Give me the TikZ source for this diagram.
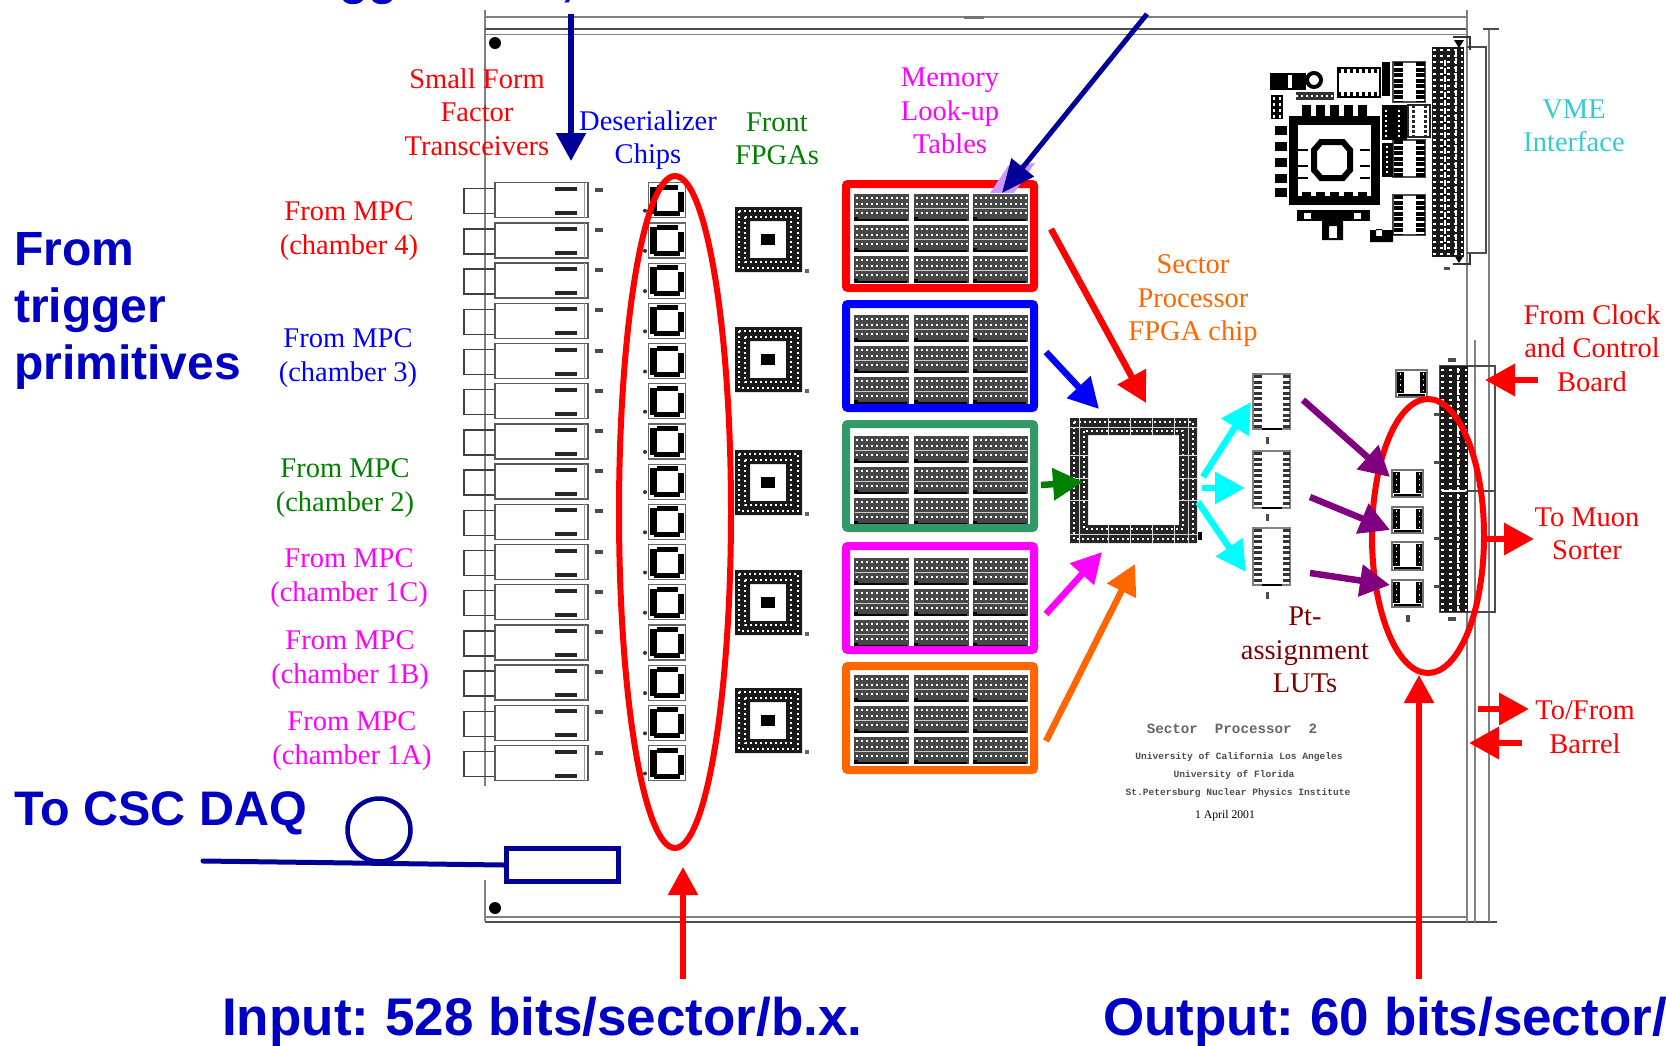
\documentclass[tikz,border=0pt]{standalone}
\usepackage{fontspec}
\setmainfont{Liberation Serif}
\setsansfont{Liberation Sans}
\setmonofont{Liberation Mono}
\usetikzlibrary{arrows.meta}
\definecolor{navyblue}{RGB}{0,0,153}
\definecolor{boldblue}{RGB}{0,0,196}
\definecolor{seagreen}{RGB}{51,153,102}
\definecolor{deeporange}{RGB}{255,102,0}
\definecolor{turq}{RGB}{51,204,204}
\definecolor{lilac}{RGB}{204,153,255}
\definecolor{fullmagenta}{RGB}{255,0,255}
\definecolor{fullcyan}{RGB}{0,255,255}
\definecolor{fullred}{RGB}{255,0,0}
\definecolor{fullblue}{RGB}{0,0,255}
\definecolor{fullpurple}{RGB}{128,0,128}
\definecolor{darkgreen}{RGB}{0,128,0}
\definecolor{darkred}{RGB}{128,0,0}
\begin{document}
\begin{tikzpicture}[x=1pt,y=-1pt,
  lbl/.style={font=\fontsize{28.5}{33.5}\selectfont,align=center,inner sep=0pt},
  biglbl/.style={font=\fontsize{48}{57}\selectfont\sffamily\bfseries,text=boldblue,inner sep=0pt},
  hugelbl/.style={font=\fontsize{53}{60}\selectfont\sffamily\bfseries,text=boldblue,inner sep=0pt,anchor=base west},
  platelbl/.style={font=\fontsize{9.6}{11}\selectfont\ttfamily\bfseries,text=black!70,inner sep=0pt},
  bigarrow/.style={-{Triangle[length=30pt,width=31pt]},line width=6.5pt},
  longarrow/.style={-{Triangle[length=28pt,width=29pt]},line width=5.5pt},
  boardln/.style={black!50,line width=1.6pt},
  bankbox/.style={minimum width=188pt,minimum height=104pt,line width=8pt,rounded corners=2pt,inner sep=0pt},
  holes/.style={white,line width=1.4pt,dash pattern=on 2pt off 3pt}]
\useasboundingbox (0,0) rectangle (1666,1045);

% Board outline
\draw[boardln] (485,10) -- (485,786);
\draw[boardln] (485,880) -- (485,921);
\draw[boardln] (485,17) -- (1467,17);
\draw[black!70,line width=1.8pt] (485,29) -- (1467,29);
\draw[boardln] (485,34.5) -- (1467,34.5);
\draw[boardln] (485,917) -- (1467,917);
\draw[black!70,line width=1.8pt] (485,922) -- (1497,922);
\fill[black!55] (964,15.5) rectangle (984,19);
\draw[boardln] (1467,10) -- (1467,922);
\draw[boardln] (1475,340) -- (1475,922);
\draw[boardln] (1489,29) -- (1489,922);
\draw[black!70,line width=1.6pt] (1483,29) -- (1499,29);
\fill[black] (495,43) circle (6pt);
\fill[black] (495,908) circle (6pt);

% Transceivers and deserializers, one per row
\foreach \n in {0,...,14} {
  \pgfmathsetmacro\y{182.7+40.2*\n}
  \draw[black!75,line width=1.4pt] (495,\y+6) -- (464,\y+6) -- (464,\y+31) -- (495,\y+31);
  \draw[black!65,line width=1.5pt] (495,\y) rectangle (588,\y+35);
  \draw[black!40,line width=1pt] (584.5,\y) -- (584.5,\y+35);
  \fill[black!85] (555,\y+4) rectangle (577,\y+8);
  \fill[black!85] (555,\y+28) rectangle (577,\y+32);
  \fill[black!70] (595,\y+5) rectangle (603,\y+9);
  % deserializer chip
  \draw[black!60,line width=1.2pt] (648.5,\y) rectangle (685.5,\y+35);
  \fill[black] (650,\y+4) rectangle (657,\y+31);
  \fill[black] (657,\y+2) rectangle (678,\y+7);
  \fill[black] (654,\y+28) rectangle (680,\y+33);
  \fill[black] (678,\y+9) rectangle (684,\y+29);
  \fill[black!80] (645,\y+28) circle (2pt);
}

% Front FPGAs
\foreach \y in {207,327,450,570,688} {
  \fill[black!90,even odd rule] (735,\y) rectangle (802,\y+65) (750,\y+14) rectangle (786,\y+51);
  \draw[holes] (739,\y+4) rectangle (798,\y+61);
  \draw[holes] (745,\y+10) rectangle (791,\y+55);
  \fill[black] (761,\y+27) rectangle (775,\y+38);
  \fill[black!60] (805,\y+62) rectangle (809,\y+66);
}

% Memory banks
\foreach \col/\top/\chiptop in {fullred/180/194,fullblue/300/315,seagreen/420/436,fullmagenta/542/558,deeporange/662/675} {
  \foreach \cx in {854,913.5,973} {
    \foreach \r in {0,1,2} {
      \pgfmathsetmacro\cy{\chiptop+31*\r}
      \fill[black!72] (\cx,\cy) rectangle (\cx+55,\cy+27);
      \draw[holes,line width=1.2pt] (\cx+2,\cy+4) -- (\cx+54,\cy+4);
      \draw[holes,line width=1.2pt] (\cx+2,\cy+10) -- (\cx+54,\cy+10);
      \draw[white!80!black,line width=.9pt] (\cx+1,\cy+14.5) -- (\cx+54,\cy+14.5);
      \draw[holes,line width=1.2pt] (\cx+2,\cy+19) -- (\cx+54,\cy+19);
      \draw[black,line width=1.5pt] (\cx+2,\cy+26) -- (\cx+53,\cy+26);
      \fill[black] (\cx,\cy+23) rectangle (\cx+4,\cy+27);
    }
  }
  \node[bankbox,draw=\col] (bank\col) at (940,\top+56) {};
}

% Sector processor FPGA
\fill[black!85,even odd rule] (1070,418) rectangle (1197,543) (1088,435) rectangle (1179,525);
\draw[holes,line width=1.2pt] (1074,422) rectangle (1193,539);
\draw[holes,line width=1.2pt] (1084,431) rectangle (1183,529);
\draw[white!85!black,line width=.9pt] (1070,427) -- (1197,427) (1070,534) -- (1197,534);
\draw[white!85!black,line width=.9pt] (1079,418) -- (1079,543) (1188,418) -- (1188,543);
\foreach \x in {1108,1130,1152,1174} \draw[white!85!black,line width=.9pt] (\x,418) -- (\x,435) (\x,525) -- (\x,543);
\foreach \y in {455,478,500} \draw[white!85!black,line width=.9pt] (1070,\y) -- (1088,\y) (1179,\y) -- (1197,\y);
\fill[black] (1198,532) rectangle (1202,540);

% Pt-assignment LUTs
\foreach \y/\h/\tick in {374/55/437,451/57/514,528/57/592} {
  \draw[black!50,line width=1.2pt] (1253,\y) rectangle (1290,\y+\h);
  \draw[black!80,line width=8pt,dash pattern=on 3pt off 2.5pt] (1257.5,\y+1) -- (1257.5,\y+\h-1);
  \draw[black!80,line width=7pt,dash pattern=on 3pt off 2.5pt] (1286,\y+1) -- (1286,\y+\h-1);
  \draw[black,line width=1.4pt] (1262,\y+\h) -- (1282,\y+\h);
  \fill[black!70] (1266,\tick) rectangle (1268.5,\tick+7);
}

% Output chips
\foreach \x/\y/\h in {1396/370/27,1392/470/27,1392/507/26,1392/542/28,1392/580/27} {
  \draw[black!55,line width=1.2pt] (\x,\y) rectangle (\x+31,\y+\h);
  \fill[black] (\x+1,\y+2) rectangle (\x+8,\y+\h-4);
  \fill[black] (\x+24,\y+2) rectangle (\x+30,\y+\h-4);
  \draw[white,line width=1pt,dash pattern=on 1.5pt off 4pt] (\x+4,\y+3) -- (\x+4,\y+\h-4) (\x+27,\y+3) -- (\x+27,\y+\h-4);
  \fill[black] (\x+2,\y+\h-3) rectangle (\x+29,\y+\h-1);
}
\fill[black!70] (1406,615) rectangle (1410,622);

% Lower connector
\draw[black!70,line width=1.5pt] (1440,366) rectangle (1495,612);
\draw[black!70,line width=1.5pt] (1440,491) -- (1495,491);
\fill[black!90] (1440,366) rectangle (1468,612);
\foreach \y in {370,376,...,610} \draw[white,line width=1.2pt,dash pattern=on 3pt off 5pt] (1441,\y) -- (1467,\y);
\draw[white,line width=1.2pt,dash pattern=on 5pt off 2pt] (1458,368) -- (1458,610);
\draw[white,line width=1.2pt] (1442,491) -- (1466,491);
\fill[black!70] (1434,413) rectangle (1439,416);
\fill[black!70] (1434,461) rectangle (1439,464);
\fill[black!70] (1434,537) rectangle (1439,540);
\fill[black!70] (1434,585) rectangle (1439,588);
\fill[black!70] (1448,358) rectangle (1456,362);
\fill[black!70] (1448,617) rectangle (1456,621);

% VME connector
\draw[black!70,line width=1.6pt] (1467,47) -- (1486,47) -- (1486,253) -- (1467,253);
\draw[black!80,line width=1.6pt] (1453,37) -- (1470,37) -- (1470,50);
\draw[black!80,line width=1.6pt] (1453,264) -- (1470,264) -- (1470,254);
\fill[black] (1454,40) -- (1464,40) -- (1459,48) -- cycle;
\fill[black] (1454,255) -- (1464,255) -- (1459,263) -- cycle;
\fill[black!90] (1432,47) rectangle (1464,257);
\foreach \y in {50,56,...,254} \draw[white,line width=1.2pt,dash pattern=on 3pt off 4pt] (1433,\y) -- (1463,\y);
\draw[white,line width=1.3pt,dash pattern=on 6pt off 2pt] (1456,50) -- (1456,255);
\draw[white,line width=1.3pt,dash pattern=on 6pt off 2pt] (1445,60) -- (1445,250);
\fill[black!70] (1444,267) rectangle (1450,270);

% VME interface chips
\draw[black,line width=9pt] (1293,120) rectangle (1375,200);
\draw[black,line width=6pt] (1321,142) -- (1343,142) -- (1350,150) -- (1350,170) -- (1343,178) -- (1321,178) -- (1314,170) -- (1314,150) -- cycle;
\foreach \x in {1302,1316,1330,1344,1358} {
  \fill[black] (\x,105) rectangle (\x+9,116);
  \fill[black] (\x,192) rectangle (\x+9,198);
}
\foreach \y in {126,142,158,174,188} \fill[black] (1275,\y) rectangle (1287,\y+9);
\foreach \y in {150,166,178} {
  \draw[black,line width=1.5pt] (1298,\y) -- (1308,\y);
  \draw[black,line width=1.5pt] (1360,\y) -- (1370,\y);
}
\fill[black] (1270,73) rectangle (1306,90);
\fill[white] (1288,75) rectangle (1292,88);
\draw[black,line width=4pt] (1314,80) circle (7pt);
\fill[black] (1271,95) rectangle (1283,119);
\draw[white,line width=1.5pt,dash pattern=on 3pt off 3pt] (1274,97) -- (1274,118) (1280,97) -- (1280,118);
\fill[black!80] (1296,92) rectangle (1334,100);
\draw[holes] (1296,96) -- (1334,96);
\draw[black,line width=1.5pt] (1338,68) rectangle (1380,97);
\draw[black,line width=4pt,dash pattern=on 3pt off 3pt] (1338,71) -- (1380,71);
\draw[black,line width=4pt,dash pattern=on 3pt off 3pt] (1338,94) -- (1380,94);
\fill[black] (1382,62) rectangle (1390,96);
\foreach \y/\h in {62/40,140/37,195/40} {
  \draw[black!70,line width=1.2pt] (1393,\y) rectangle (1425,\y+\h);
  \draw[black,line width=9pt,dash pattern=on 4pt off 1.5pt] (1398,\y) -- (1398,\y+\h);
  \draw[black,line width=9pt,dash pattern=on 4pt off 1.5pt] (1420,\y) -- (1420,\y+\h);
}
\fill[black] (1382,105) rectangle (1407,140);
\fill[black] (1382,143) rectangle (1393,177);
\draw[holes] (1386,110) -- (1386,138) (1399,110) -- (1399,138);
\draw[holes] (1387,146) -- (1387,176);
\draw[black!85,line width=1.4pt] (1408,105) rectangle (1430,137);
\draw[black!85,line width=3pt,dash pattern=on 3pt off 2pt] (1413,105) -- (1413,137) (1425,105) -- (1425,137);
\fill[black] (1297,210) rectangle (1370,221);
\foreach \x in {1304,1354} \fill[white] (\x,213) rectangle (\x+7,219);
\fill[black,even odd rule] (1322,210) rectangle (1343,240) (1329,226) rectangle (1337,238);
\fill[black,even odd rule] (1370,230) rectangle (1393,242) (1376,229) rectangle (1382,236);

% Maker plate
\node[font=\fontsize{14.2}{15}\selectfont\ttfamily\bfseries,text=black!60,inner sep=0pt] (plateA) at (1232,729) {Sector~~Processor~~2};
\node[platelbl] (plateB) at (1239,757) {University of California Los Angeles};
\node[platelbl] (plateC) at (1234,775) {University of Florida};
\node[platelbl] (plateD) at (1238,793) {St.Petersburg Nuclear Physics Institute};
\node[font=\fontsize{11.7}{13}\selectfont,inner sep=0pt] (plateE) at (1225,816) {1 April 2001};

% Ellipses
\draw[fullred,line width=6pt] (675,512) ellipse (56pt and 336pt);
\draw[fullred,line width=6pt] (1428,536) ellipse (56pt and 137pt);

% To CSC DAQ fibre
\node[draw=navyblue,line width=5pt,minimum width=112pt,minimum height=33pt,inner sep=0pt] (daqbox) at (562.5,865) {};
\coordinate (fibreend) at (203,861);
\draw[navyblue,line width=5pt,line cap=round] (fibreend) -- (daqbox.west);
\node[draw=navyblue,line width=4.5pt,circle,minimum size=63pt,inner sep=0pt] (fibreloop) at (379,830) {};

% Labels
\node[lbl,fullred] (sfflbl) at (477,112) {Small Form\\Factor\\Transceivers};
\node[lbl,fullblue] (deslbl) at (648,140) {Deserializer\\Chips};
\node[lbl,darkgreen] (frontlbl) at (777,139) {Front\\FPGAs};
\node[lbl,fullmagenta] (memlbl) at (950,111) {Memory\\Look-up\\Tables};
\node[lbl,turq] (vmelbl) at (1574,126) {VME\\Interface};
\node[lbl,deeporange] (splbl) at (1193,301) {Sector\\Processor\\FPGA chip};
\node[lbl,fullred] (clklbl) at (1592,348) {From Clock\\and Control\\Board};
\node[lbl,fullred] (muonlbl) at (1587,534) {To Muon\\Sorter};
\node[lbl,fullred] (barrellbl) at (1585,727) {To/From\\Barrel};
\node[lbl,darkred] (ptlbl) at (1305,650) {Pt-\\assignment\\LUTs};
\node[lbl,fullred] (mpcfour) at (349,231) {From MPC\\(chamber 4)};
\node[lbl,fullblue] (mpcthree) at (348,358) {From MPC\\(chamber 3)};
\node[lbl,darkgreen] (mpctwo) at (345,488) {From MPC\\(chamber 2)};
\node[lbl,fullmagenta] (mpcc) at (349,578) {From MPC\\(chamber 1C)};
\node[lbl,fullmagenta] (mpcb) at (350,660) {From MPC\\(chamber 1B)};
\node[lbl,fullmagenta] (mpca) at (352,741) {From MPC\\(chamber 1A)};

\node[biglbl,align=left,anchor=north west] (triglbl) at (14,232) {From\\trigger\\primitives};
\node[biglbl,anchor=base west,font=\fontsize{48.5}{57}\selectfont\sffamily\bfseries] (daqlbl) at (14,825) {To CSC DAQ};
\node[hugelbl] (inlbl) at (222,1035) {Input:\hspace{.3em}528 bits/sector/b.x.};
\node[hugelbl] (outlbl) at (1103,1035) {Output:\hspace{.3em}60 bits/sector/};
\node[biglbl,anchor=base west] (cutgg) at (339,-6) {gg};
\node[biglbl,anchor=base] (cutcomma) at (568,-5) {,};

% Arrows
\coordinate (sfftop) at (571,14);
\coordinate (sfftip) at (571,161);
\draw[longarrow,navyblue] (sfftop) -- (sfftip);
\fill[lilac] (990,193) -- (1008,166) -- (1035,163) -- (1014,193) -- cycle;
\coordinate (memtop) at (1147,14);
\coordinate (memtip) at (1002,193);
\draw[-{Triangle[length=33pt,width=28pt]},line width=5pt,navyblue] (memtop) -- (memtip);
\coordinate (redA) at (1051,229);
\coordinate (redB) at (1146,403);
\draw[bigarrow,fullred] (redA) -- (redB);
\coordinate (blueA) at (1046,352);
\coordinate (blueB) at (1099,409);
\draw[bigarrow,fullblue] (blueA) -- (blueB);
\coordinate (greenA) at (1041,485);
\coordinate (greenB) at (1083,482);
\draw[bigarrow,darkgreen] (greenA) -- (greenB);
\coordinate (magA) at (1046,614);
\coordinate (magB) at (1102,552);
\draw[bigarrow,fullmagenta] (magA) -- (magB);
\coordinate (orgA) at (1046,741);
\coordinate (orgB) at (1135,564);
\draw[bigarrow,deeporange] (orgA) -- (orgB);
\coordinate (cyanA) at (1203,477);
\coordinate (cyanB) at (1251,402);
\draw[bigarrow,fullcyan] (cyanA) -- (cyanB);
\coordinate (cyanC) at (1202,488);
\coordinate (cyanD) at (1245,488);
\draw[bigarrow,fullcyan] (cyanC) -- (cyanD);
\coordinate (cyanE) at (1198,502);
\coordinate (cyanF) at (1246,572);
\draw[bigarrow,fullcyan] (cyanE) -- (cyanF);
\coordinate (purA) at (1303,400);
\coordinate (purB) at (1390,477);
\draw[bigarrow,fullpurple] (purA) -- (purB);
\coordinate (purC) at (1310,497);
\coordinate (purD) at (1390,530);
\draw[bigarrow,fullpurple] (purC) -- (purD);
\coordinate (purE) at (1310,573);
\coordinate (purF) at (1390,585);
\draw[bigarrow,fullpurple] (purE) -- (purF);
\coordinate (clkA) at (1538,380);
\coordinate (clkB) at (1485,380);
\draw[bigarrow,fullred] (clkA) -- (clkB);
\coordinate (muonA) at (1484,539);
\coordinate (muonB) at (1534,539);
\draw[bigarrow,fullred] (muonA) -- (muonB);
\coordinate (barA) at (1478,709);
\coordinate (barB) at (1529,709);
\draw[bigarrow,fullred] (barA) -- (barB);
\coordinate (barC) at (1522,743);
\coordinate (barD) at (1469,743);
\draw[bigarrow,fullred] (barC) -- (barD);
\coordinate (outA) at (1419,979);
\coordinate (outB) at (1419,675);
\draw[longarrow,fullred] (outA) -- (outB);
\coordinate (inA) at (683,979);
\coordinate (inB) at (683,867);
\draw[longarrow,fullred] (inA) -- (inB);
\end{tikzpicture}
\end{document}
